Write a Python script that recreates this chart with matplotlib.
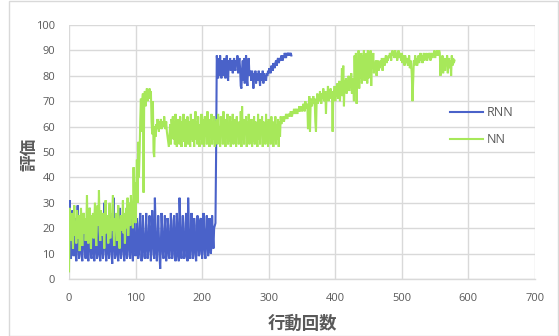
import numpy as np
import matplotlib
matplotlib.use("Agg")
import matplotlib.pyplot as plt
from matplotlib.patches import Rectangle

plt.rcParams['font.family'] = ['Noto Sans CJK JP', 'DejaVu Sans']

# Evaluation score per action step
rnn = [
    # 0-100
    20, 31, 14, 8, 22, 27, 12, 9, 18, 24,
    10, 7, 16, 29, 15, 8, 11, 23, 18, 9,
    7, 14, 26, 19, 10, 8, 17, 21, 12, 7,
    13, 28, 16, 9, 8, 20, 25, 11, 7, 15,
    22, 13, 8, 10, 27, 18, 9, 7, 16, 23,
    12, 8, 14, 30, 17, 10, 7, 19, 24, 11,
    8, 13, 26, 15, 9, 6, 18, 32, 14, 8,
    10, 21, 17, 9, 7, 15, 28, 13, 8, 12,
    24, 19, 10, 7, 16, 22, 11, 8, 14, 30,
    17, 9, 8, 20, 25, 12, 7, 15, 23, 13,
    9,
    # 101-219
    11, 24, 17, 8, 10, 22, 26, 13, 7, 12,
    25, 18, 9, 8, 16, 26, 14, 8, 11, 21,
    25, 12, 7, 15, 27, 19, 10, 8, 32, 22,
    11, 7, 14, 25, 17, 9, 4, 13, 26, 20,
    10, 8, 17, 25, 14, 7, 11, 24, 21, 9,
    8, 15, 26, 16, 8, 10, 23, 25, 12, 7,
    14, 26, 18, 9, 7, 32, 24, 11, 8, 16,
    25, 15, 8, 9, 22, 26, 13, 7, 32, 20,
    10, 8, 17, 26, 14, 8, 11, 24, 21, 9,
    7, 15, 25, 16, 9, 10, 23, 24, 12, 8,
    13, 26, 18, 10, 8, 20, 25, 14, 9, 12,
    24, 19, 10, 13, 25, 17, 12, 20, 21,
    # 220-272
    22, 50, 88, 84, 79,
    87, 80, 88, 81, 79, 86, 83, 80, 87, 82, 79, 85, 88, 81, 78, 86,
    83, 87, 82, 84, 86, 81, 85, 87, 83, 82, 86, 84, 88, 81, 85, 87, 83,
    76, 75, 82, 86, 78,
    87, 77, 84, 88, 79, 76, 85, 87, 80, 82,
    # 273-309
    81, 78, 82, 80, 75, 81, 79, 82, 77, 80, 81, 78, 82, 79, 76, 81,
    80, 78, 82, 77, 81, 79, 80, 78, 81,
    80, 82, 81, 83, 82, 81, 84, 83, 82, 85, 84, 83,
    # 310-334
    85, 86, 84, 86, 87, 85, 86, 87, 86, 88,
    87, 86, 88, 87, 89, 88, 87, 89, 88, 89,
    88, 89, 88, 89, 88,
]

nn = [
    # 0-95
    3, 28, 22, 15, 26, 19, 12, 24, 29, 17,
    21, 14, 27, 23, 16, 25, 11, 19, 28, 20,
    13, 22, 26, 18, 24, 15, 21, 33, 19, 14,
    23, 28, 17, 12, 25, 20, 26, 16, 22, 30,
    18, 13, 24, 29, 21, 35, 19, 15, 27, 22,
    17, 26, 20, 12, 23, 31, 18, 25, 21, 14,
    24, 30, 16, 22, 19, 27, 33, 18, 13, 24,
    20, 26, 15, 22, 29, 17, 12, 21, 25, 19,
    23, 31, 18, 26, 14, 22, 28, 20, 32, 17,
    25, 30, 21, 33, 24, 29,
    # 96-130
    20, 44, 28, 38, 22, 35, 47, 30, 54, 40,
    49, 62, 71, 58, 70, 73, 34, 72, 74, 68,
    73, 75, 70, 74, 72, 75, 71, 74, 62, 57,
    70, 50, 48, 60, 56,
    # 131-155
    61, 59, 63, 60, 58, 62, 60, 63, 59, 61,
    62, 60, 64, 61, 59, 62, 58, 56, 54, 52,
    57, 61, 53, 63, 60,
    # 156-320
    64, 55, 62, 53, 65, 58, 52, 63, 56, 61,
    53, 64, 57, 52, 62, 55, 65, 54, 60, 52,
    63, 56, 64, 53, 59, 62, 52, 65, 55, 61,
    54, 63, 52, 60, 66, 55, 62, 53, 64, 57,
    52, 61, 55, 65, 53, 63, 58, 52, 64, 56,
    62, 53, 66, 54, 60, 52, 63, 57, 65, 53,
    61, 55, 64, 52, 62, 56, 63, 53, 65, 54,
    60, 52, 64, 57, 62, 53, 66, 55, 61, 52,
    63, 56, 65, 53, 60, 54, 64, 52, 62, 57,
    65, 53, 61, 55, 63, 52, 64, 56, 60, 53,
    62, 54, 66, 52, 68, 55, 63, 53, 61, 57,
    64, 52, 62, 55, 65, 53, 60, 56, 63, 52,
    61, 54, 64, 53, 62, 56, 58, 52, 65, 55,
    63, 53, 61, 57, 64, 52, 62, 55, 60, 53,
    65, 54, 62, 52, 63, 56, 61, 53, 64, 55,
    62, 52, 60, 57, 64, 53, 61, 55, 63, 52,
    62, 56, 64, 61, 63,
    # 321-399
    63, 64, 62, 64, 63, 65, 64, 63, 65, 64,
    65, 64, 66, 65, 64, 66, 65, 67, 65, 66,
    67, 66, 65, 67, 66, 68, 66, 67, 68, 66,
    67, 69, 68, 66, 70, 68, 67, 69, 59, 68,
    72, 58, 69, 71, 68, 70, 72, 69, 71, 62,
    58, 70, 73, 69, 72, 70, 74, 71, 69, 73,
    71, 75, 70, 72, 74, 65, 73, 71, 76, 70,
    74, 72, 75, 71, 73, 58, 74, 72, 76,
    # 400-457
    70, 75, 72, 77, 71, 74, 78, 70, 76, 73,
    83, 72, 84, 68, 78, 74, 79, 73, 77, 75,
    80, 74, 78, 76, 81, 73, 79, 77, 70, 88,
    76, 89, 69, 85, 78, 90, 75, 87, 79, 89,
    77, 88, 80, 90, 78, 86, 81, 89, 77, 90,
    79, 88, 82, 90, 76, 87, 83, 89,
    # 458-515
    81, 85, 83, 86, 80, 84, 86, 82, 85, 83,
    86, 84, 87, 82, 85, 87, 84, 86, 88, 85,
    87, 86, 88, 87, 89, 88, 86, 89, 90, 88,
    89, 87, 90, 88, 89, 86, 88, 90, 87, 89,
    88, 86, 89, 85, 88, 87, 84, 88, 86, 85,
    87, 84, 86, 88, 83, 86, 85, 80,
    # 516-579
    70, 78, 86, 84, 88, 85, 87, 84, 86, 88,
    85, 87, 89, 86, 88, 85, 87, 89, 86, 88,
    87, 89, 86, 88, 87, 89, 88, 86, 89, 88,
    87, 89, 88, 90, 87, 89, 88, 90, 89, 88,
    90, 89, 80, 86, 83, 88, 81, 85, 87, 82,
    86, 84, 88, 81, 85, 87, 83, 86, 80, 88,
    84, 87, 85, 86,
]

series_names = ["RNN", "NN"]
series_colors = ["#4a62c9", "#a7e85a"]
x_ticks = [0, 100, 200, 300, 400, 500, 600, 700]
y_ticks = [0, 10, 20, 30, 40, 50, 60, 70, 80, 90, 100]
x_title = "行動回数"
y_title = "評価"

text_color = "#595959"
grid_color = "#d9d9d9"

fig = plt.figure(figsize=(5.59, 3.36), dpi=100)
ax = fig.add_axes([69 / 559, 1 - 279 / 336, (535 - 69) / 559, (279 - 25) / 336])

for vals, name, col in zip([rnn, nn], series_names, series_colors):
    ax.plot(np.arange(len(vals)), vals, color=col, lw=1.5, label=name,
            solid_joinstyle="miter")

ax.set_xlim(x_ticks[0], x_ticks[-1])
ax.set_ylim(y_ticks[0], y_ticks[-1])
ax.set_xticks(x_ticks)
ax.set_yticks(y_ticks)
ax.grid(True, color=grid_color, lw=1.0)
ax.set_axisbelow(True)
for side in ["top", "right", "left"]:
    ax.spines[side].set_visible(False)
ax.spines["bottom"].set_color(grid_color)
ax.spines["bottom"].set_linewidth(1.0)
ax.tick_params(length=0, labelsize=8, labelcolor=text_color)
ax.tick_params(axis="x", pad=10)
ax.tick_params(axis="y", pad=10)
for lbl in ax.get_xticklabels() + ax.get_yticklabels():
    lbl.set_family(["Open Sans", "DejaVu Sans"])

ax.set_xlabel(x_title, fontsize=12.5, color=text_color, fontweight="bold", labelpad=8)
ax.set_ylabel(y_title, fontsize=12, color=text_color, fontweight="bold",
              va="center", ha="center")
ax.yaxis.set_label_coords((30 - 69) / 466, 0.49)

leg = ax.legend(loc="center left", bbox_to_anchor=(450 / 559, 1 - 126 / 336),
                bbox_transform=fig.transFigure, frameon=False, fontsize=9,
                handlelength=2.6, handletextpad=0.3, labelspacing=1.1,
                borderpad=0, borderaxespad=0)
for t in leg.get_texts():
    t.set_color(text_color)
    t.set_family(["Open Sans", "DejaVu Sans"])

fig.patches.append(Rectangle((8.5 / 559, 0.5 / 336), 549 / 559, 335 / 336,
                             transform=fig.transFigure, fill=False,
                             edgecolor=grid_color, lw=1.0))

fig.savefig("out.png", dpi=100)
